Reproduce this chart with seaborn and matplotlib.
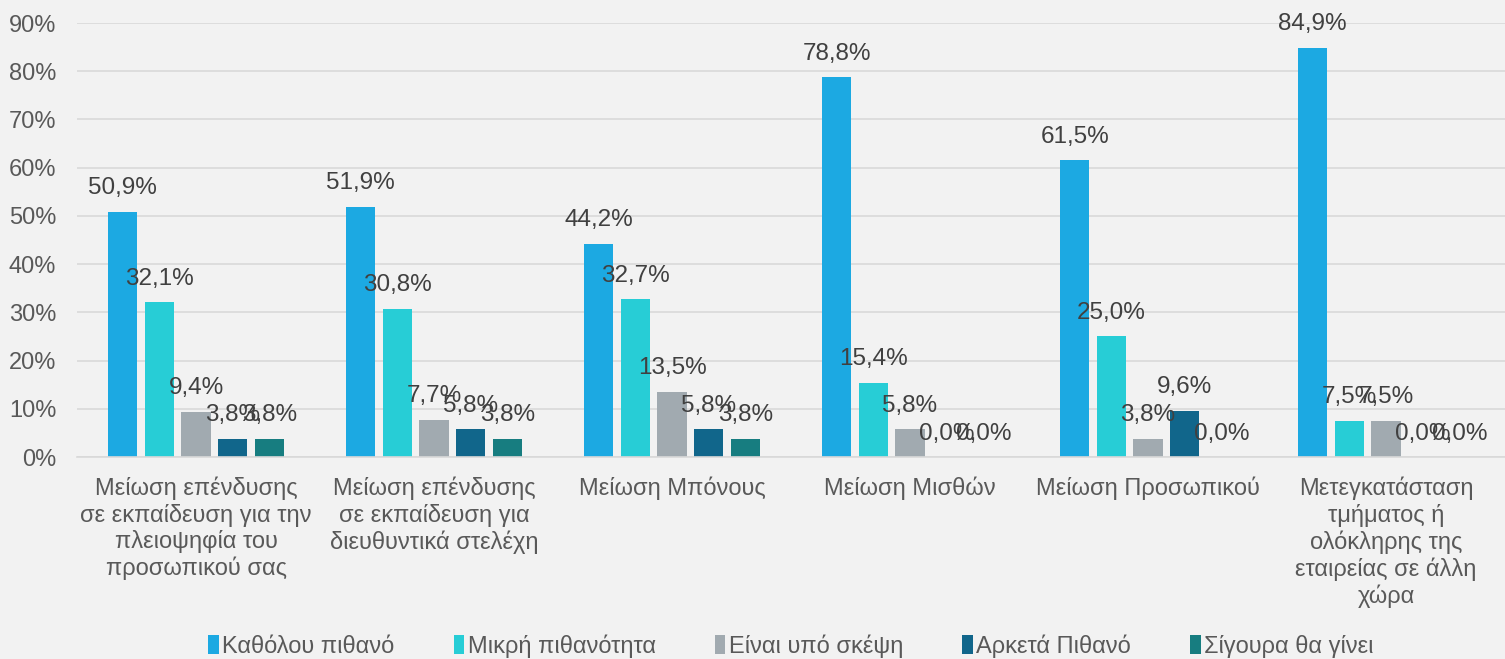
import pandas as pd
import seaborn as sns
import matplotlib.pyplot as plt

# Data
categories = [
    "Μείωση επένδυσης\nσε εκπαίδευση για την\nπλειοψηφία του\nπροσωπικού σας",
    "Μείωση επένδυσης\nσε εκπαίδευση για\nδιευθυντικά στελέχη",
    "Μείωση Μπόνους",
    "Μείωση Μισθών",
    "Μείωση Προσωπικού",
    "Μετεγκατάσταση\nτμήματος ή\nολόκληρης της\nεταιρείας σε άλλη\nχώρα",
]
series = ["Καθόλου πιθανό", "Μικρή πιθανότητα", "Είναι υπό σκέψη", "Αρκετά Πιθανό", "Σίγουρα θα γίνει"]
katholou = [50.9, 51.9, 44.2, 78.8, 61.5, 84.9]
mikri = [32.1, 30.8, 32.7, 15.4, 25.0, 7.5]
skepsi = [9.4, 7.7, 13.5, 5.8, 3.8, 7.5]
arketa = [3.8, 5.8, 5.8, 0.0, 9.6, 0.0]
sigoura = [3.8, 3.8, 3.8, 0.0, 0.0, 0.0]
colors = ["#1CA9E2", "#27CDD6", "#A1AAB0", "#11668B", "#177D80"]

# Long format table
rows = []
for s, vals in zip(series, [katholou, mikri, skepsi, arketa, sigoura]):
    for c, v in zip(categories, vals):
        rows.append({"Category": c, "Series": s, "Value": v})
df = pd.DataFrame(rows)

sns.set_style("white")
plt.rcParams['font.family'] = ['Liberation Sans', 'DejaVu Sans']

fig = plt.figure(figsize=(15.05, 6.59), dpi=100, facecolor="#F2F2F2")
ax = fig.add_axes([0.0512, 0.3065, 0.9488, 0.6585])
ax.set_facecolor("#F2F2F2")

sns.barplot(data=df, x="Category", y="Value", hue="Series", order=categories,
            hue_order=series, palette=colors, width=0.77, gap=0.2,
            saturation=1, linewidth=0, ax=ax, legend=True)

# Data labels with decimal comma
for cont in ax.containers:
    labels = [f"{b.get_height():.1f}%".replace(".", ",") for b in cont]
    ax.bar_label(cont, labels=labels, padding=9, fontsize=17.5, color="#404040")

ax.set_ylim(0, 90)
ax.set_xlim(-0.5, 5.5)
ax.set_yticks(range(0, 91, 10))
ax.set_yticklabels([f"{t}%" for t in range(0, 91, 10)])
ax.yaxis.grid(True, color="#D9D9D9", linewidth=1.2)
ax.set_axisbelow(True)
ax.set_xlabel("")
ax.set_ylabel("")
ax.tick_params(axis='both', length=0, labelsize=17, labelcolor="#595959")
ax.tick_params(axis='y', pad=15)
ax.tick_params(axis='x', pad=14)
for lbl in ax.get_xticklabels():
    lbl.set_linespacing(1.2)
    lbl.set_verticalalignment("top")

for side in ["left", "right", "top"]:
    ax.spines[side].set_visible(False)
ax.spines['bottom'].set_color("#D9D9D9")
ax.spines['bottom'].set_linewidth(1.2)

# Legend centred under the plot area, at the bottom of the figure
leg = ax.legend(loc="lower center", ncol=5, frameon=False,
                fontsize=17, handlelength=0.45, handleheight=0.9, handletextpad=0.15,
                columnspacing=2.5, labelcolor="#595959")
leg.set_bbox_to_anchor((0.5256, -0.03), transform=fig.transFigure)

fig.savefig("out.png", dpi=100, facecolor=fig.get_facecolor())
